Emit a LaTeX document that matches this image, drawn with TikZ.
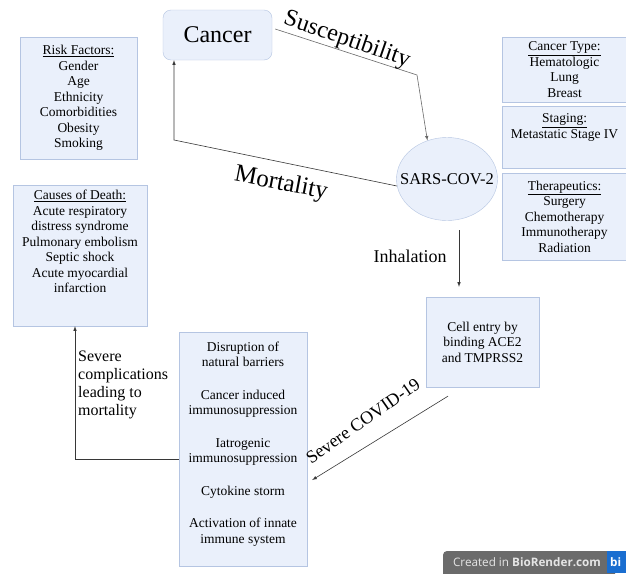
\documentclass[tikz,border=0pt]{standalone}
\definecolor{box_fill_color}{HTML}{EAF0FB}
\definecolor{box_line_color}{HTML}{B5C5E2}
\definecolor{ar_color}{RGB}{55, 55, 55}
\definecolor{badge_gray_color}{HTML}{6B6B6B}
\definecolor{badge_blue_color}{HTML}{1A6ED0}
\usepackage{fontspec}
\setmainfont{Liberation Serif}
\newfontfamily\badgefont{Open Sans}
\usetikzlibrary{shapes.geometric}

\begin{document}
\begin{tikzpicture}[x=1pt, y=-1pt, >=latex,
    txt/.style={align=center, font=\fontsize{13.5}{15.5}\selectfont},
    bx/.style={txt, draw=box_line_color, fill=box_fill_color, inner sep=0pt},
    ar/.style={draw=ar_color, line width=0.6pt, ->},
    big/.style={font=\fontsize{24}{28}\selectfont}]
        \fill[white] (0,0) rectangle (626,573);
        \useasboundingbox (0,0) rectangle (626,573);
        % boxes
        \node[bx, minimum width=117pt, minimum height=122pt] (risk) at (78.5,98)
            {\underline{Risk Factors:}\\Gender\\Age\\Ethnicity\\Comorbidities\\Obesity\\Smoking};
        \node[bx, big, rounded corners=8pt, minimum width=109pt, minimum height=50pt] (cancer) at (217.5,35) {Cancer};
        \node[bx, ellipse, minimum width=101pt, minimum height=83pt] (sars) at (447,179) {};
        \node[font=\fontsize{16.5}{20}\selectfont, inner sep=0pt] (sarstxt) at (sars) {SARS-COV-2};
        \node[bx, minimum width=125pt, minimum height=65pt] (ctype) at (564.5,69.5)
            {\underline{Cancer Type:}\\Hematologic\\Lung\\Breast};
        \node[bx, minimum width=125pt, minimum height=62pt] (staging) at (564.5,137) {};
        \node[txt] (stagetxt) at (staging.north) [below, yshift=-4.5pt] {\underline{Staging:}\\Metastatic Stage IV};
        \node[bx, minimum width=125pt, minimum height=87pt] (thera) at (564.5,216.5)
            {\underline{Therapeutics:}\\Surgery\\Chemotherapy\\Immunotherapy\\Radiation};
        \node[bx, minimum width=134pt, minimum height=141pt] (death) at (80,255.5) {};
        \node[txt] (deathtxt) at (death.north) [below, yshift=-2pt]
            {\underline{Causes of Death:}\\Acute respiratory\\distress syndrome\\Pulmonary embolism\\Septic shock\\Acute myocardial\\infarction};
        \node[bx, minimum width=113pt, minimum height=90pt] (cell) at (482.5,342)
            {Cell entry by\\binding ACE2\\and TMPRSS2};
        \node[bx, minimum width=128pt, minimum height=234pt] (mech) at (243,449) {};
        \node[txt] (mechtxt) at (mech.north) [below, yshift=-6.5pt]
            {Disruption of\\natural barriers\\[17pt]Cancer induced\\immunosuppression\\[17pt]Iatrogenic\\immunosuppression\\[17pt]Cytokine storm\\[17pt]Activation of innate\\immune system};
        % connectors
        \coordinate (sbend) at (417,75);
        \coordinate (mbend) at (174,140);
        \coordinate (inh) at (459,230);
        \coordinate (cbend) at (75,459);
        \draw[ar, draw=ar_color!75] ([xshift=3pt, yshift=6pt]cancer.east) -- (sbend) -- (sars.117);
        \draw[ar] (sars.188) -- (mbend) -- (mbend |- cancer.south);
        \draw[ar, shorten >=10pt] (inh) -- (inh |- cell.north);
        \draw[ar, shorten <=17pt] ([xshift=-20pt]cell.south) -- ([xshift=5pt, yshift=-31pt]mech.east);
        \draw[ar] (mech.west |- cbend) -- (cbend) -- (cbend |- death.south);
        % labels
        \node[big, rotate=-19] (suslbl) at (347,40) {Susceptibility};
        \node[big, font=\fontsize{25}{29}\selectfont, rotate=-11] (mortlbl) at (281,184) {Mortality};
        \node[font=\fontsize{18}{22}\selectfont] (inhlbl) at (410,256) {Inhalation};
        \node[font=\fontsize{18}{22}\selectfont, rotate=35] (covlbl) at (363,421) {Severe COVID-19};
        \node[font=\fontsize{16}{18}\selectfont, align=left, anchor=north west, inner sep=0pt] (sevlbl) at (78,351)
            {Severe\\complications\\leading to\\mortality};
        % badge
        \fill[badge_gray_color, rounded corners=4pt] (443,551) rectangle (615,580);
        \fill[badge_blue_color] (607,551) rectangle (626,573);
        \node[text=white!90!black, font=\badgefont\fontsize{11.7}{13}\selectfont] (badge) at (527,562.5)
            {Created in \textbf{BioRender.com}};
        \node[text=white, font=\badgefont\bfseries\fontsize{11.7}{13}\selectfont, anchor=west, inner sep=0pt] (badgebi) at (610,562) {bi};
      \end{tikzpicture}
\end{document}
